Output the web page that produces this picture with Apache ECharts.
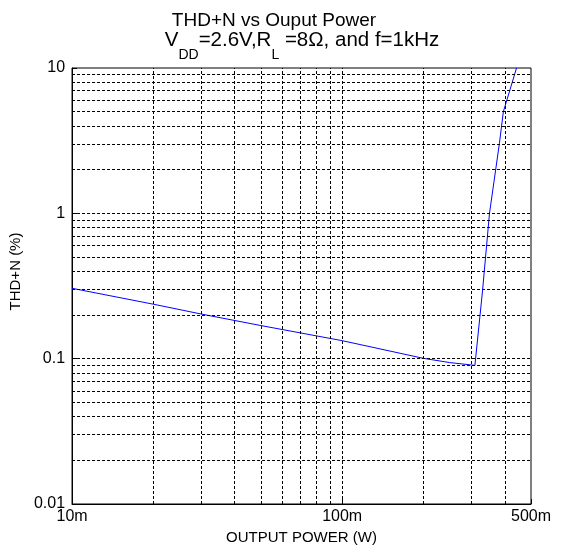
<!DOCTYPE html>
<html>
<head>
<meta charset="utf-8">
<script src="https://cdn.jsdelivr.net/npm/echarts@6/dist/echarts.min.js"></script>
<style>
  html, body { margin: 0; padding: 0; background: #fff; }
  #main { width: 561px; height: 554px; }
</style>
</head>
<body>
<div id="main"></div>
<script>
// output power (W) and THD+N (%)
var power = [0.01, 0.02, 0.03, 0.05, 0.1, 0.2, 0.25, 0.31, 0.331, 0.351, 0.382, 0.395, 0.442];
var thdn = [0.305, 0.237, 0.203, 0.169, 0.133, 0.1005, 0.094, 0.0899, 0.2965, 1.0, 3.03, 5.0, 10];

// dashed grid positions (log grid, 2..9 of each decade)
var xGridTicks = [0.02, 0.03, 0.04, 0.05, 0.06, 0.07, 0.08, 0.09, 0.1, 0.2, 0.3, 0.4];
var yGridTicks = [0.02, 0.03, 0.04, 0.05, 0.06, 0.07, 0.08, 0.09, 0.1,
  0.2, 0.3, 0.4, 0.5, 0.6, 0.7, 0.8, 0.9, 1, 2, 3, 4, 5, 6, 7, 8, 9];

var font = 'Liberation Sans, Arial, sans-serif';

var chartDom = document.getElementById('main');
var myChart = echarts.init(chartDom);

var curve = power.map(function (p, i) { return [p, thdn[i]]; });
var gridLines = [];
xGridTicks.forEach(function (v) { gridLines.push({xAxis: v}); });
yGridTicks.forEach(function (v) { gridLines.push({yAxis: v}); });

var option = {
  animation: false,
  title: [
    {
      text: 'THD+N vs Ouput Power',
      left: 274,
      textAlign: 'center',
      top: 11,
      padding: 0,
      textStyle: {fontFamily: font, fontSize: 19, fontWeight: 'normal', color: '#000', lineHeight: 19}
    },
    {
      text: '{n|V}{s|DD}{n|=2.6V,R}{s|L}{n| =8Ω, and f=1kHz}',
      left: 302,
      textAlign: 'center',
      top: 30,
      padding: 0,
      textStyle: {
        fontFamily: font,
        fontWeight: 'normal',
        rich: {
          n: {fontFamily: font, fontSize: 20.5, fontWeight: 'normal', color: '#000', lineHeight: 20, verticalAlign: 'top'},
          s: {fontFamily: font, fontSize: 14, fontWeight: 'normal', color: '#000', lineHeight: 32, verticalAlign: 'bottom'}
        }
      }
    }
  ],
  grid: {
    left: 71,
    right: 30,
    top: 68,
    bottom: 50,
    show: true,
    borderColor: '#000',
    borderWidth: 1
  },
  xAxis: [
    {
      type: 'log',
      min: 0.01,
      max: 0.5,
      name: 'OUTPUT POWER (W)',
      nameLocation: 'middle',
      nameGap: 23,
      nameTextStyle: {fontFamily: font, fontSize: 15, color: '#000'},
      axisLine: {lineStyle: {color: '#000'}},
      axisTick: {inside: true, length: 5, lineStyle: {color: '#000'}},
      splitLine: {show: false},
      axisLabel: {
        fontFamily: font, fontSize: 16, color: '#000', margin: 5,
        formatter: function (v) { return Math.round(v * 1000) + 'm'; }
      }
    }
  ],
  yAxis: [
    {
      type: 'log',
      min: 0.01,
      max: 10,
      name: 'THD+N (%)',
      nameLocation: 'middle',
      nameGap: 48,
      nameTextStyle: {fontFamily: font, fontSize: 15, color: '#000', padding: [0, 0, 0, 29]},
      axisLine: {lineStyle: {color: '#000'}},
      axisTick: {inside: true, length: 5, lineStyle: {color: '#000'}},
      splitLine: {show: false},
      axisLabel: {
        fontFamily: font, fontSize: 16, color: '#000', margin: 7,
        formatter: function (v) { return String(+v.toPrecision(3)); }
      }
    }
  ],
  series: [
    {
      name: 'grid',
      type: 'line',
      data: [],
      z: 1,
      silent: true,
      markLine: {
        silent: true,
        symbol: ['none', 'none'],
        label: {show: false},
        lineStyle: {type: [3, 2], color: '#000', width: 1},
        emphasis: {disabled: true},
        data: gridLines
      }
    },
    {
      name: 'THD+N',
      type: 'line',
      data: curve,
      z: 3,
      symbol: 'none',
      clip: true,
      lineStyle: {color: '#0000ff', width: 1}
    }
  ]
};

option && myChart.setOption(option);
</script>
</body>
</html>
